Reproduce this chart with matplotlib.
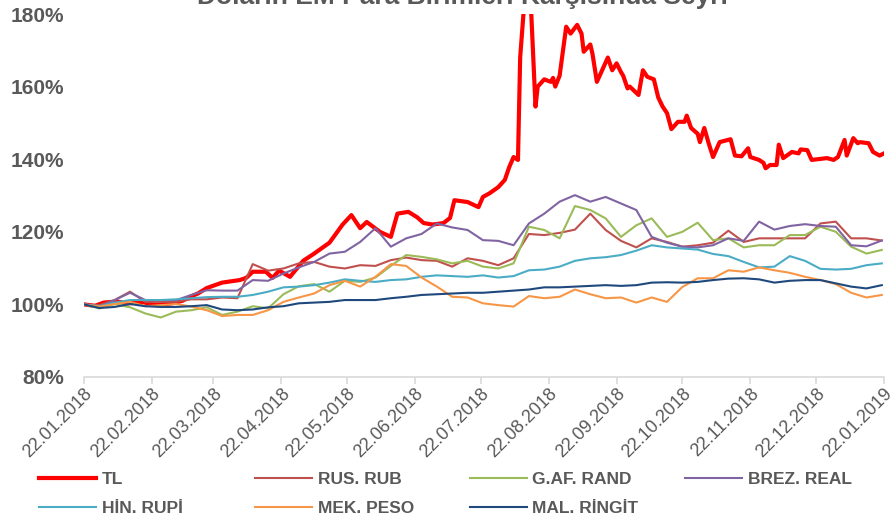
import matplotlib
matplotlib.use("Agg")
import matplotlib.pyplot as plt
import numpy as np
import pandas as pd

# ---------------- data ----------------
start = pd.Timestamp("2018-01-22")
tick_labels = ["22.01.2018", "22.02.2018", "22.03.2018", "22.04.2018", "22.05.2018",
               "22.06.2018", "22.07.2018", "22.08.2018", "22.09.2018", "22.10.2018",
               "22.11.2018", "22.12.2018", "22.01.2019"]
y_ticks = [80, 100, 120, 140, 160, 180]

# TL (days after 22.01.2018, index value %)
tl_day = [0, 5, 9, 15, 20, 27, 33, 40, 45, 48, 52, 56, 63, 71, 74, 77, 83, 86, 89, 94,
          100, 105, 112, 118, 122, 126, 129, 135, 140, 143, 148, 152, 155, 159, 164, 167,
          169, 175, 180, 182, 185, 189, 192, 194, 196, 198, 199, 201, 204, 206, 207, 210,
          213, 214, 215, 217, 220, 222, 225, 227, 228, 231, 232, 234, 239, 241, 243, 245,
          246, 248, 249, 253, 255, 257, 260, 262, 264, 266, 268, 271, 274, 275, 277, 280,
          281, 283, 285, 287, 290, 295, 297, 300, 303, 304, 308, 310, 311, 313, 316, 317,
          319, 323, 326, 327, 330, 332, 339, 342, 344, 347, 348, 351, 353, 354, 358, 360,
          363, 365]
tl_val = [100, 99.6, 100.5, 100.8, 100.3, 100.6, 99.8, 100.3, 101, 102, 103, 104.5, 106,
          106.7, 107.3, 109, 109, 107.3, 109.3, 107.6, 112, 114, 117, 122, 124.6, 121,
          122.7, 120, 118.6, 125, 125.5, 124, 122.4, 122, 122.4, 123.8, 128.7, 128.2, 126.8,
          129.6, 130.6, 132.3, 134.3, 137.8, 140.6, 139.8, 168, 184, 181, 154.5, 160, 162,
          161.3, 162.4, 160, 163, 176.5, 174.6, 177, 174.6, 169.6, 171.6, 169, 161.3, 168,
          164.5, 166.4, 164, 163, 159.5, 160, 157.7, 164.5, 162.7, 162, 157, 154.5, 152.7,
          148.3, 150.3, 150.3, 152, 148.6, 147, 144.7, 148.6, 144.4, 140.6, 144.7, 145.5,
          141, 140.8, 143, 140.6, 139.8, 139, 137.5, 138.4, 138.4, 144, 140.3, 142, 141.6,
          142.7, 142.5, 139.8, 140.3, 139.8, 140.6, 145.3, 141, 145.8, 144.4, 144.7, 144.4,
          142, 141, 141.6]

# weekly values for the other currencies (every 7 days from 22.01.2018)
rus_rub = [100, 99.8, 101.2, 103.5, 100.7, 100.7, 100.7, 101.4, 101.4, 101.9, 101.7, 111.1,
           109.3, 109.9, 111.3, 111.7, 110.4, 109.9, 110.8, 110.6, 112.2, 112.9, 112.2, 112.0,
           110.4, 112.7, 112.0, 110.8, 112.7, 119.4, 119.1, 119.7, 120.6, 125.0, 120.5, 117.5,
           115.7, 118.2, 117.2, 115.9, 116.3, 117.0, 120.3, 117.2, 118.2, 118.2, 118.2, 118.2,
           122.3, 122.8, 118.2, 118.2, 117.6]
gaf_rand = [100, 98.9, 100.1, 99.2, 97.5, 96.4, 98.0, 98.4, 99.2, 97.1, 98.0, 99.5, 98.9,
            102.8, 105.0, 105.6, 103.5, 106.5, 106.2, 107.4, 110.6, 113.6, 113.1, 112.4,
            111.3, 112.0, 110.4, 109.9, 111.3, 121.4, 120.5, 118.2, 127.1, 126.0, 123.7,
            118.6, 121.8, 123.7, 118.6, 120.0, 122.5, 117.7, 118.2, 115.7, 116.3, 116.3,
            119.1, 119.1, 121.4, 120.0, 115.9, 114.0, 115.0]
brez_real = [100, 99.4, 101.2, 103.2, 101.2, 101.2, 101.2, 102.6, 103.9, 103.8, 103.8, 106.7,
             106.5, 108.5, 110.2, 111.7, 114.0, 114.5, 117.2, 121.0, 115.9, 118.2, 119.4,
             122.3, 121.2, 120.5, 117.7, 117.5, 116.3, 122.3, 125.0, 128.3, 130.1, 128.3,
             129.6, 127.8, 126.0, 118.6, 117.0, 115.9, 115.7, 116.3, 118.2, 117.5, 122.8,
             120.6, 121.6, 122.1, 121.6, 121.4, 116.3, 116.0, 117.6]
hin_rupi = [100, 99.5, 100.5, 101.2, 101.2, 101.2, 101.4, 101.7, 102.0, 102.1, 102.1, 102.6,
            103.5, 104.7, 104.9, 105.3, 106.0, 106.9, 106.5, 106.2, 106.7, 106.9, 107.6,
            108.0, 107.8, 107.6, 108.0, 107.4, 107.8, 109.4, 109.6, 110.4, 112.0, 112.7,
            113.0, 113.6, 114.8, 116.3, 115.7, 115.4, 115.1, 113.9, 113.3, 111.7, 110.2,
            110.4, 113.3, 112.0, 109.8, 109.6, 109.8, 110.8, 111.3]
mek_peso = [100, 99.4, 100.1, 100.7, 99.5, 99.8, 100.1, 99.4, 98.4, 96.8, 97.1, 97.1, 98.4,
            100.7, 101.9, 103.0, 105.3, 106.5, 104.9, 107.6, 111.1, 110.6, 107.4, 104.9,
            102.1, 101.9, 100.3, 99.8, 99.4, 102.3, 101.7, 102.1, 104.1, 102.8, 101.7, 101.9,
            100.5, 101.9, 100.7, 104.8, 107.2, 107.2, 109.4, 109.0, 110.2, 109.4, 108.7,
            107.6, 106.7, 105.6, 103.2, 101.9, 102.6]
mal_ringit = [100, 99.0, 99.3, 100.1, 99.5, 99.3, 99.3, 99.5, 99.8, 98.6, 98.4, 98.6, 99.2,
              99.5, 100.3, 100.5, 100.7, 101.2, 101.2, 101.2, 101.7, 102.1, 102.6, 102.8,
              103.0, 103.2, 103.2, 103.5, 103.8, 104.1, 104.7, 104.7, 104.9, 105.1, 105.3,
              105.1, 105.3, 106.0, 106.1, 106.0, 106.2, 106.7, 107.1, 107.2, 106.9, 106.0,
              106.5, 106.7, 106.7, 105.8, 104.9, 104.4, 105.3]

series_names = ["TL", "RUS. RUB", "G.AF. RAND", "BREZ. REAL", "HİN. RUPİ", "MEK. PESO", "MAL. RİNGİT"]
series_colors = ["#FF0000", "#C0504D", "#9BBB59", "#8064A2", "#4BACC6", "#F79646", "#1F497D"]
weekly_series = [rus_rub, gaf_rand, brez_real, hin_rupi, mek_peso, mal_ringit]

# ---------------- figure ----------------
plt.rcParams['font.family'] = ['Liberation Sans', 'DejaVu Sans']
grey = "#595959"

fig = plt.figure(figsize=(8.9, 5.17), dpi=100)
ax = fig.add_axes([84 / 890, 1 - 377 / 517, 800 / 890, 363 / 517])

tl_dates = start + pd.to_timedelta(tl_day, unit="D")
week_dates = start + pd.to_timedelta(np.arange(len(rus_rub)) * 7, unit="D")

handles = []
h, = ax.plot(tl_dates, tl_val, color=series_colors[0], lw=3.0, solid_joinstyle="round",
             label=series_names[0])
handles.append(h)
for name, col, vals in zip(series_names[1:], series_colors[1:], weekly_series):
    h, = ax.plot(week_dates, vals, color=col, lw=1.5, label=name)
    handles.append(h)

tick_dates = pd.to_datetime(tick_labels, format="%d.%m.%Y")
ax.set_xlim(tick_dates[0], tick_dates[-1])
ax.set_ylim(y_ticks[0], y_ticks[-1])
ax.set_xticks(tick_dates)
ax.set_xticklabels(tick_labels, rotation=45, ha="right", va="top", rotation_mode="anchor",
                   fontsize=13, color=grey)
ax.set_yticks(y_ticks)
ax.set_yticklabels([f"{v}%" for v in y_ticks], fontsize=15, fontweight="bold", color=grey)

for s in ["top", "right", "left"]:
    ax.spines[s].set_visible(False)
ax.spines["bottom"].set_color("#D9D9D9")
ax.spines["bottom"].set_linewidth(1.2)
ax.tick_params(axis="x", direction="out", length=5, width=1.2, color="#D9D9D9", pad=1)
ax.tick_params(axis="y", length=0, pad=14)

# title (partly cut at the top, as in the reference)
fig.text(0.52, 1 - 4 / 517, "Doların EM Para Birimleri Karşısında Seyri", ha="center",
         va="baseline", fontsize=19, fontweight="bold", color=grey)

# legend: 4 columns
col_x = [39, 255, 470, 685]
columns = [[0, 4], [1, 5], [2, 6], [3]]
for cx, idxs in zip(col_x, columns):
    leg = fig.legend([handles[i] for i in idxs], [series_names[i] for i in idxs],
                     loc="upper left", bbox_to_anchor=(cx / 890, 1 - 472 / 517),
                     frameon=False, borderpad=0, borderaxespad=0, handlelength=3.3,
                     handletextpad=0.3, labelspacing=0.78,
                     prop={"size": 12.5, "weight": "bold"})
    for t in leg.get_texts():
        t.set_color(grey)

fig.savefig("out.png", dpi=100)
